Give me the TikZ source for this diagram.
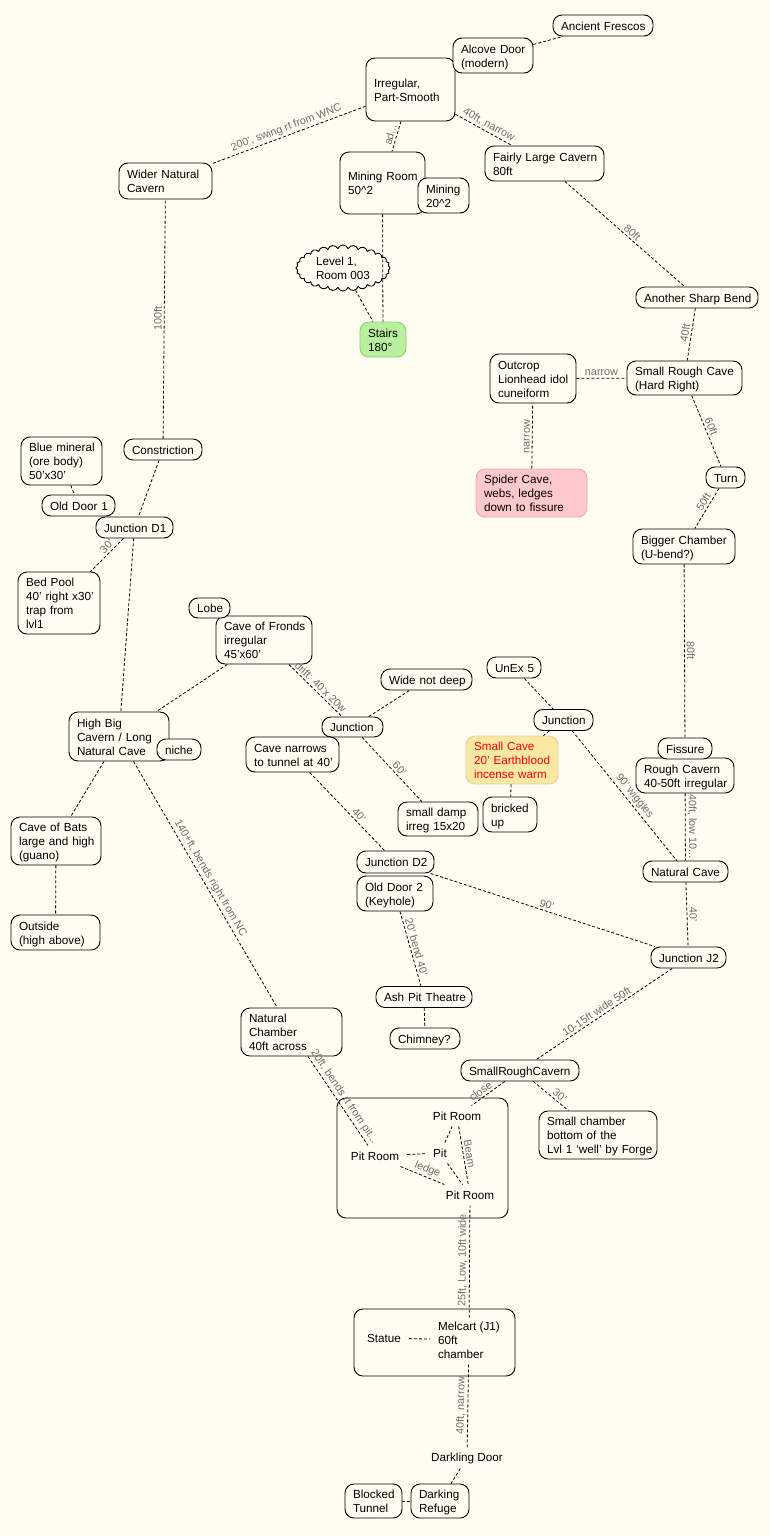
\documentclass[tikz,border=0pt]{standalone}
\usepackage{fontspec}
\setmainfont{Liberation Sans}
\usetikzlibrary{shapes.symbols}
\definecolor{bg}{RGB}{255,253,241}
\definecolor{labc}{RGB}{110,110,110}
\definecolor{gfill}{RGB}{185,240,160}
\definecolor{gdraw}{RGB}{140,205,115}
\definecolor{pfill}{RGB}{255,200,202}
\definecolor{pdraw}{RGB}{235,170,172}
\definecolor{yfill}{RGB}{250,232,165}
\definecolor{ydraw}{RGB}{230,208,140}
\newcommand\nodefnt{\fontsize{11.7}{13.9}\selectfont}
\newcommand\labfnt{\fontsize{10.8}{12}\selectfont}
\tikzset{
 box/.style={draw=black, line width=0.9pt, rounded corners=9pt, fill=bg, inner xsep=8pt, inner ysep=0pt, align=left, font=\nodefnt},
 txt/.style={inner xsep=8pt, inner ysep=5pt, align=left, font=\nodefnt},
 ed/.style={draw=black, line width=0.8pt, dash pattern=on 3pt off 2pt},
 lbl/.style={font=\labfnt, text=labc, sloped, above, inner sep=2pt},
}
\newcommand\bx[7][]{%
  \pgfmathsetmacro\bxtw{#5-16}%
  \node[box,minimum width=#5pt,minimum height=#6pt,text width=\bxtw pt,#1] (#2) at (#3,#4) {\raisebox{-2pt}[\height][\depth]{\begin{tabular}{@{}l@{}}#7\end{tabular}}};}
\begin{document}
\begin{tikzpicture}[x=1pt,y=-1pt]
\fill[bg] (0,0) rectangle (769,1536);
\useasboundingbox (0,0) rectangle (769,1536);
% group boxes
\node[box, minimum width=171pt, minimum height=120pt] (pitgroup) at (422.5,1158) {};
\node[box, minimum width=161pt, minimum height=67pt] (melgroup) at (434.5,1342.5) {};
% nodes
\bx{frescos}{603}{25.5}{100}{21}{Ancient Frescos}
\bx{irreg}{410.5}{89.5}{89}{63}{Irregular,\\Part-Smooth}
\bx{alcove}{493}{55.5}{80}{35}{Alcove Door\\(modern)}
\bx{mining}{382.5}{183}{85}{62}{Mining Room\\50\textasciicircum2}
\bx{mining2}{443.5}{195.5}{51}{35}{Mining\\20\textasciicircum2}
\bx{flc}{544.5}{163.5}{119}{35}{Fairly Large Cavern\\80ft}
\bx{wnc}{165.5}{181}{93}{36}{Wider Natural\\Cavern}
\node[cloud, draw=black, fill=bg, line width=0.9pt, cloud puffs=28, cloud puff arc=140, aspect=2, minimum width=94pt, minimum height=46pt, inner sep=0pt, font=\nodefnt, align=left] (lvl1) at (343,268) {Level 1,\\Room 003};
\bx[draw=gdraw, fill=gfill]{stairs}{383}{339.5}{46}{35}{Stairs\\180°}
\bx{asb}{697}{297.5}{122}{21}{Another Sharp Bend}
\bx{src}{684.5}{378}{115}{34}{Small Rough Cave\\(Hard Right)}
\bx{outcrop}{533}{378.5}{86}{49}{Outcrop\\Lionhead idol\\cuneiform}
\bx[draw=pdraw, fill=pfill]{spider}{531.5}{493}{111}{48}{Spider Cave,\\webs, ledges\\down to fissure}
\bx{turn}{725.5}{477.5}{39}{21}{Turn}
\bx{bigger}{684}{546.5}{102}{35}{Bigger Chamber\\(U-bend?)}
\bx{rough}{685}{775.5}{98}{35}{Rough Cavern\\40-50ft irregular}
\bx{fissure}{685}{748.5}{54}{21}{Fissure}
\bx{natcave}{685.5}{871.5}{85}{21}{Natural Cave}
\bx{j2}{688.5}{957.5}{75}{21}{Junction J2}
\bx{unex}{514}{667.5}{54}{21}{UnEx 5}
\bx{juncr}{563.5}{720}{59}{21}{Junction}
\bx[draw=ydraw, fill=yfill, text=red]{smallcave}{512}{760}{92}{48}{Small Cave\\20' Earthblood\\incense warm}
\bx{bricked}{510}{814.5}{54}{35}{bricked\\up}
\bx{damp}{438}{819}{80}{34}{small damp\\irreg 15x20}
\bx{wide}{426.5}{679.5}{91}{21}{Wide not deep}
\bx{juncm}{352.5}{727}{61}{20}{Junction}
\bx{narrows}{292.5}{754.5}{93}{35}{Cave narrows\\to tunnel at 40'}
\bx{fronds}{264}{640}{96}{48}{Cave of Fronds\\irregular\\45'x60'}
\bx{lobe}{209.5}{608}{41}{20}{Lobe}
\bx{hbc}{119}{736.5}{100}{49}{High Big\\Cavern / Long\\Natural Cave}
\bx{niche}{179}{749.5}{44}{21}{niche}
\bx{door1}{78.5}{505.5}{73}{21}{Old Door 1}
\bx{d1}{134.5}{527.5}{77}{21}{Junction D1}
\bx{blue}{61.5}{461}{81}{48}{Blue mineral\\(ore body)\\50'x30'}
\bx{constr}{163}{449.5}{78}{21}{Constriction}
\bx{bedpool}{59}{603}{82}{62}{Bed Pool\\40' right x30'\\trap from\\lvl1}
\bx{bats}{56}{841}{90}{48}{Cave of Bats\\large and high\\(guano)}
\bx{outside}{55.5}{932.5}{89}{35}{Outside\\(high above)}
\bx{d2}{395.5}{862}{77}{22}{Junction D2}
\bx{door2}{395}{893.5}{76}{35}{Old Door 2\\(Keyhole)}
\bx{ash}{424}{997}{96}{21}{Ash Pit Theatre}
\bx{chimney}{425}{1038.5}{70}{21}{Chimney?}
\bx{srcav}{520}{1070.5}{118}{21}{SmallRoughCavern}
\bx{smallch}{598}{1135}{118}{48}{Small chamber\\bottom of the\\Lvl 1 ‘well’ by Forge}
\bx{natch}{291.5}{1032}{101}{48}{Natural\\Chamber\\40ft across}
\node[txt, inner ysep=6pt] (pittop) at (457,1116) {Pit Room};
\node[txt, inner ysep=6pt] (pit) at (440,1153) {Pit};
\node[txt, inner ysep=6pt] (pitleft) at (375,1156) {Pit Room};
\node[txt, inner ysep=6pt] (pitbot) at (470,1195) {Pit Room};
\node[txt] (statue) at (384,1338) {Statue};
\node[txt, inner ysep=4pt] (melcart) at (469,1340) {Melcart (J1)\\60ft\\chamber};
\node[txt] (darkling) at (467,1458) {Darkling Door};
\bx{blocked}{373.5}{1501}{57}{34}{Blocked\\Tunnel}
\bx{refuge}{440}{1501}{58}{34}{Darking\\Refuge}
% edges
\draw[ed] (alcove) -- (frescos);
\draw[ed] (irreg) -- node[lbl,pos=.5]{200', swing rt from WNC} (wnc);
\draw[ed] (irreg) -- node[lbl,pos=.5]{ad...} (mining);
\draw[ed] (irreg) -- node[lbl,pos=.53]{40ft, narrow} (flc);
\draw[ed] (flc) -- node[lbl,pos=.53]{80ft} (asb);
\draw[ed] (mining) -- (stairs);
\draw[ed] (lvl1) -- (stairs);
\draw[ed] (asb) -- node[lbl,pos=.49]{40ft} (src);
\draw[ed] (outcrop) -- node[lbl,pos=.5]{narrow} (src);
\draw[ed] (spider) -- node[lbl,allow upside down,pos=.49]{narrow} (outcrop);
\draw[ed] (src) -- node[lbl,pos=.47]{60ft} (turn);
\draw[ed] (turn) -- node[lbl,pos=.41]{50ft} (bigger);
\draw[ed] (bigger) -- node[lbl,allow upside down,pos=.5]{80ft} (fissure);
\draw[ed] (rough) -- node[lbl,allow upside down,pos=.49]{40ft, low 10...} (natcave);
\draw[ed] (natcave) -- node[lbl,allow upside down,pos=.5]{40'} (j2);
\draw[ed] (juncr) -- node[lbl,pos=.54]{90' wiggles} (natcave);
\draw[ed] (unex) -- (juncr);
\draw[ed] (juncr) -- (smallcave);
\draw[ed] (smallcave) -- (bricked);
\draw[ed] (juncm) -- (wide);
\draw[ed] (fronds) -- node[lbl,pos=.52]{drift: 40'x 20w} (juncm);
\draw[ed] (juncm) -- node[lbl,pos=.55]{60'} (damp);
\draw[ed] (narrows) -- node[lbl,pos=.6]{40'} (d2);
\draw[ed] (d2) -- node[lbl,pos=.51]{90'} (j2);
\draw[ed] (door2) -- node[lbl,pos=.5]{20' bend 40'} (ash);
\draw[ed] (ash) -- (chimney);
\draw[ed] (j2) -- node[lbl,pos=.53]{10-15ft wide 50ft} (srcav);
\draw[ed] (srcav) -- node[lbl,pos=.62]{close} (pittop);
\draw[ed] (srcav) -- node[lbl,pos=.64]{30'} (smallch);
\draw[ed] (natch) -- node[lbl,pos=.5]{20ft, bends rt from pit...} (pitleft);
\draw[ed] (hbc) -- node[lbl,pos=.49]{140+ft, bends right from NC} (natch);
\draw[ed] (hbc) -- (bats);
\draw[ed] (bats) -- (outside);
\draw[ed] (fronds) -- (hbc);
\draw[ed] (d1) -- (hbc);
\draw[ed] (constr) -- (d1);
\draw[ed] (d1) -- node[lbl,pos=.37]{30'} (bedpool);
\draw[ed] (blue) -- (door1);
\draw[ed] (constr) -- node[lbl,allow upside down,pos=.5]{100ft} (wnc);
\draw[ed] (pit) -- (pittop);
\draw[ed] (pitleft) -- (pit);
\draw[ed] (pitleft) -- node[lbl,pos=.55]{ledge} (pitbot);
\draw[ed] (pit) -- (pitbot);
\draw[ed] (pittop) -- node[lbl,pos=.49]{Beam} (pitbot);
\draw[ed] (melcart) -- node[lbl,allow upside down,pos=.51]{25ft, Low, 10ft wide} (pitbot);
\draw[ed] (statue) -- (melcart);
\draw[ed] (darkling) -- node[lbl,allow upside down,pos=.49]{40ft, narrow} (melcart);
\draw[ed] (darkling) -- (refuge);
\draw[ed] (blocked) -- (refuge);
\end{tikzpicture}
\end{document}
